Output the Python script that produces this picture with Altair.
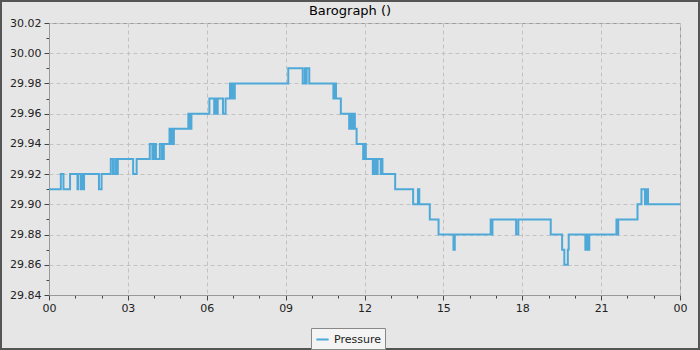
import altair as alt
import pandas as pd

# Barograph readings (time of day, inHg)
times = [
    "00:00", "00:27", "00:33", "00:48", "01:05", "01:07", "01:13", "01:15", "01:17", "01:20",
    "01:54", "02:00", "02:21", "02:26", "02:31", "02:33", "02:37", "03:12", "03:20", "03:50",
    "03:56", "04:00", "04:04", "04:13", "04:18", "04:22", "04:35", "04:38", "04:41", "04:43",
    "04:45", "05:18", "05:22", "05:25", "06:06", "06:17", "06:20", "06:22", "06:25", "06:37",
    "06:43", "06:53", "06:56", "07:00", "07:02", "07:04", "09:06", "09:39", "09:44", "09:46",
    "09:48", "09:54", "10:49", "10:52", "10:55", "11:06", "11:25", "11:29", "11:31", "11:35",
    "11:38", "11:42", "11:57", "12:00", "12:03", "12:19", "12:23", "12:26", "12:30", "12:37",
    "12:39", "12:41", "13:10", "13:51", "14:02", "14:05", "14:29", "14:49", "15:23", "15:26",
    "16:48", "16:50", "16:52", "17:46", "17:51", "19:05", "19:31", "19:36", "19:44", "19:46",
    "20:24", "20:27", "20:29", "20:33", "21:35", "21:37", "21:39", "22:23", "22:32", "22:40",
    "22:43", "22:47", "24:00",
]
pressure = [
    29.91, 29.92, 29.91, 29.92, 29.91, 29.92, 29.91, 29.92, 29.91, 29.92,
    29.91, 29.92, 29.93, 29.92, 29.93, 29.92, 29.93, 29.92, 29.93, 29.94,
    29.93, 29.94, 29.93, 29.94, 29.93, 29.94, 29.95, 29.94, 29.95, 29.94,
    29.95, 29.96, 29.95, 29.96, 29.97, 29.96, 29.97, 29.96, 29.97, 29.96,
    29.97, 29.98, 29.97, 29.98, 29.97, 29.98, 29.99, 29.98, 29.99, 29.98,
    29.99, 29.98, 29.97, 29.98, 29.97, 29.96, 29.95, 29.96, 29.95, 29.96,
    29.95, 29.94, 29.93, 29.94, 29.93, 29.92, 29.93, 29.92, 29.93, 29.92,
    29.93, 29.92, 29.91, 29.90, 29.91, 29.90, 29.89, 29.88, 29.87, 29.88,
    29.89, 29.88, 29.89, 29.88, 29.89, 29.88, 29.87, 29.86, 29.87, 29.88,
    29.87, 29.88, 29.87, 29.88, 29.89, 29.88, 29.89, 29.90, 29.91, 29.90,
    29.91, 29.90, 29.90,
]
series_name = "Pressure"
chart_title = "Barograph ()"

x_ticks = list(range(0, 25))
y_ticks = [29.84, 29.85, 29.86, 29.87, 29.88, 29.89, 29.90, 29.91, 29.92, 29.93,
           29.94, 29.95, 29.96, 29.97, 29.98, 29.99, 30.00, 30.01, 30.02]

hours = [int(t[:2]) + int(t[3:]) / 60.0 for t in times]
df = pd.DataFrame({"hour": hours, "pressure": pressure, "series": [series_name] * len(times)})

LINE = "#4ea9d9"
FONT = "DejaVu Sans"

x_major = "datum.value % 3 == 0"
y_major = "round(datum.value * 100) % 2 == 0"

x_axis = alt.Axis(
    values=x_ticks,
    title=None,
    labelExpr="datum.value % 3 == 0 ? ((datum.value % 24) < 10 ? '0' : '') + (datum.value % 24) : ''",
    grid=True,
    gridDash=[4, 3],
    gridColor="#c2c2c2",
    gridOpacity={"condition": {"test": x_major, "value": 1}, "value": 0},
    tickSize={"condition": {"test": x_major, "value": 5}, "value": 3},
    tickColor="#444",
    domainColor="#999",
    labelFont=FONT,
    labelFontSize=11,
    labelColor="#222",
    labelPadding=2,
    labelFlush=False,
)
y_axis = alt.Axis(
    values=y_ticks,
    title=None,
    format=".2f",
    labelExpr="round(datum.value * 100) % 2 == 0 ? datum.label : ''",
    grid=True,
    gridDash=[4, 3],
    gridColor="#c2c2c2",
    gridOpacity={"condition": {"test": y_major, "value": 1}, "value": 0},
    tickSize={"condition": {"test": y_major, "value": 5}, "value": 3},
    tickColor="#444",
    domainColor="#999",
    labelFont=FONT,
    labelFontSize=11,
    labelColor="#222",
    labelPadding=3,
    labelFlush=False,
)

line = alt.Chart(df).mark_line(interpolate="step-after", strokeWidth=2).encode(
    x=alt.X("hour:Q", scale=alt.Scale(domain=[0, 24], nice=False), axis=x_axis),
    y=alt.Y("pressure:Q", scale=alt.Scale(domain=[29.84, 30.02], nice=False, zero=False), axis=y_axis),
    color=alt.Color(
        "series:N",
        scale=alt.Scale(range=[LINE]),
        legend=alt.Legend(
            title=None,
            orient="none",
            legendX=262,
            legendY=305,
            symbolType="stroke",
            symbolStrokeWidth=2,
            symbolSize=150,
            fillColor="#f4f4f4",
            strokeColor="#888",
            padding=4,
            labelFont=FONT,
            labelFontSize=11,
            labelColor="#222",
        ),
    ),
)

single = pd.DataFrame({"f": [0]})

frame = alt.Chart(single).mark_rect(
    fill="transparent", stroke="#555", strokeWidth=2
).encode(
    x=alt.value(-48), x2=alt.value(650), y=alt.value(-22), y2=alt.value(326)
)

title = alt.Chart(single).mark_text(
    font=FONT, fontSize=13, color="#000", align="center", baseline="middle"
).encode(
    x=alt.value(301), y=alt.value(-12), text=alt.value(chart_title)
)

chart = alt.layer(line, frame, title).properties(
    width=631,
    height=272,
    autosize="none",
    padding={"left": 49, "top": 23, "right": 20, "bottom": 55},
    background="#e6e6e6",
).configure_view(stroke="#999", strokeWidth=1)

chart.save("out.html", embed_options={"renderer": "svg", "actions": False})
